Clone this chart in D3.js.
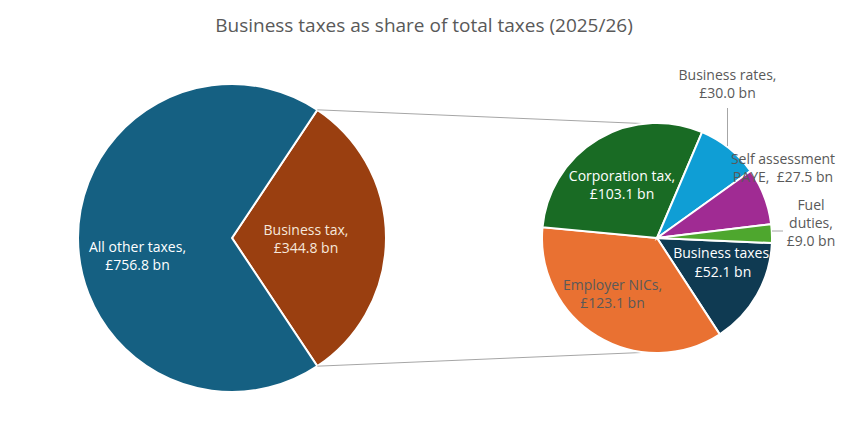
<!DOCTYPE html>
<html>
<head>
<meta charset="utf-8">
<script src="https://cdn.jsdelivr.net/npm/d3@7"></script>
<style>
  body { margin: 0; background: #fff; }
  text { font-family: "Open Sans", "Noto Sans", sans-serif; }
</style>
</head>
<body>
<div id="chart"></div>
<script>
// Main pie: business tax vs everything else (£bn)
const mainNames = ["Business tax", "All other taxes"];
const mainValues = [344.8, 756.8];
const mainColors = ["#9a3f10", "#156082"];

// Secondary pie: breakdown of business tax (£bn)
const subNames = ["Business taxes", "Employer NICs", "Corporation tax", "Business rates", "Self assessment PAYE", "Fuel duties"];
const subValues = [52.1, 123.1, 103.1, 30.0, 27.5, 9.0];
const subColors = ["#0f3a52", "#e97132", "#196b24", "#0f9ed5", "#a02b93", "#4ea72e"];

const title = "Business taxes as share of total taxes (2025/26)";

const width = 849, height = 436;
const svg = d3.select("#chart").append("svg")
    .attr("width", width)
    .attr("height", height);

// Title
svg.append("text")
    .attr("x", 424)
    .attr("y", 32)
    .attr("text-anchor", "middle")
    .style("font-size", "19px")
    .style("fill", "#595959")
    .text(title);

const fmt = v => "£" + d3.format(".1f")(v) + " bn";

// ---- main pie ----
const main = {cx: 232, cy: 238, r: 154};
const total = d3.sum(mainValues);
const bizAngle = mainValues[0] / total * 2 * Math.PI;
const mainStart = Math.PI / 2 - bizAngle / 2;

const mainPie = d3.pie().sort(null)
    .startAngle(mainStart)
    .endAngle(mainStart + 2 * Math.PI);
const mainArcs = mainPie(mainValues);
const mainArc = d3.arc().innerRadius(0).outerRadius(main.r);

const gMain = svg.append("g")
    .attr("transform", `translate(${main.cx},${main.cy})`);

gMain.selectAll("path")
    .data(mainArcs)
    .enter()
    .append("path")
    .attr("d", mainArc)
    .attr("fill", (d, i) => mainColors[i])
    .attr("stroke", "#fff")
    .attr("stroke-width", 2);

// ---- secondary pie ----
const sub = {cx: 657, cy: 238, r: 115};
const subStart = Math.PI / 2 + 2.5 * Math.PI / 180;
const subPie = d3.pie().sort(null)
    .startAngle(subStart)
    .endAngle(subStart + 2 * Math.PI);
const subArcs = subPie(subValues);
const subArc = d3.arc().innerRadius(0).outerRadius(sub.r);

// connector lines between the business tax wedge and the secondary pie
const polar = (c, r, a) => [c.cx + r * Math.sin(a), c.cy - r * Math.cos(a)];
const connA = -6 * Math.PI / 180, connB = Math.PI + 6 * Math.PI / 180;
const connectors = [
    [polar(main, main.r, mainArcs[0].startAngle), polar(sub, sub.r, connA)],
    [polar(main, main.r, mainArcs[0].endAngle), polar(sub, sub.r, connB)]
];
svg.selectAll(".conn")
    .data(connectors)
    .enter()
    .append("line")
    .attr("class", "conn")
    .attr("x1", d => d[0][0]).attr("y1", d => d[0][1])
    .attr("x2", d => d[1][0]).attr("y2", d => d[1][1])
    .attr("stroke", "#a6a6a6")
    .attr("stroke-width", 1);

const gSub = svg.append("g")
    .attr("transform", `translate(${sub.cx},${sub.cy})`);

gSub.selectAll("path")
    .data(subArcs)
    .enter()
    .append("path")
    .attr("d", subArc)
    .attr("fill", (d, i) => subColors[i])
    .attr("stroke", "#fff")
    .attr("stroke-width", 2);

// leader lines for the outside labels
const leaders = [
    {x1: 70.5, y1: -130, x2: 70.5, y2: -92},
    {x1: 115, y1: -7, x2: 126, y2: -7}
];
gSub.selectAll(".leader")
    .data(leaders)
    .enter()
    .append("line")
    .attr("x1", d => d.x1).attr("y1", d => d.y1)
    .attr("x2", d => d.x2).attr("y2", d => d.y2)
    .attr("stroke", "#a6a6a6")
    .attr("stroke-width", 1);

// ---- labels ----
const lineH = 18.3;
function addLabel(g, lines, dx, dy, color) {
    const t = g.append("text")
        .attr("text-anchor", "middle")
        .style("font-size", "14px")
        .style("fill", color);
    const y0 = dy - (lines.length - 1) * lineH / 2;
    lines.forEach((l, i) => {
        t.append("tspan")
            .attr("x", dx)
            .attr("y", y0 + i * lineH)
            .attr("dy", "0.35em")
            .text(l);
    });
}

addLabel(gMain, [mainNames[1] + ",", fmt(mainValues[1])], -94.5, 18, "#ffffff");
addLabel(gMain, [mainNames[0] + ",", fmt(mainValues[0])], 74, 1, "#f6e8dc");

addLabel(gSub, [subNames[2] + ",", fmt(subValues[2])], -35, -53, "#ffffff");
addLabel(gSub, [subNames[3] + ",", fmt(subValues[3])], 70.5, -154, "#595959");
addLabel(gSub, ["Self assessment", "PAYE,\u00a0 " + fmt(subValues[4])], 126, -70, "#595959");
addLabel(gSub, ["Fuel", "duties,", fmt(subValues[5])], 154, -15, "#595959");
addLabel(gSub, [subNames[0] + ",", fmt(subValues[0])], 66, 24.5, "#ffffff");
addLabel(gSub, [subNames[1] + ",", fmt(subValues[1])], -44.5, 56, "#595959");
</script>
</body>
</html>
